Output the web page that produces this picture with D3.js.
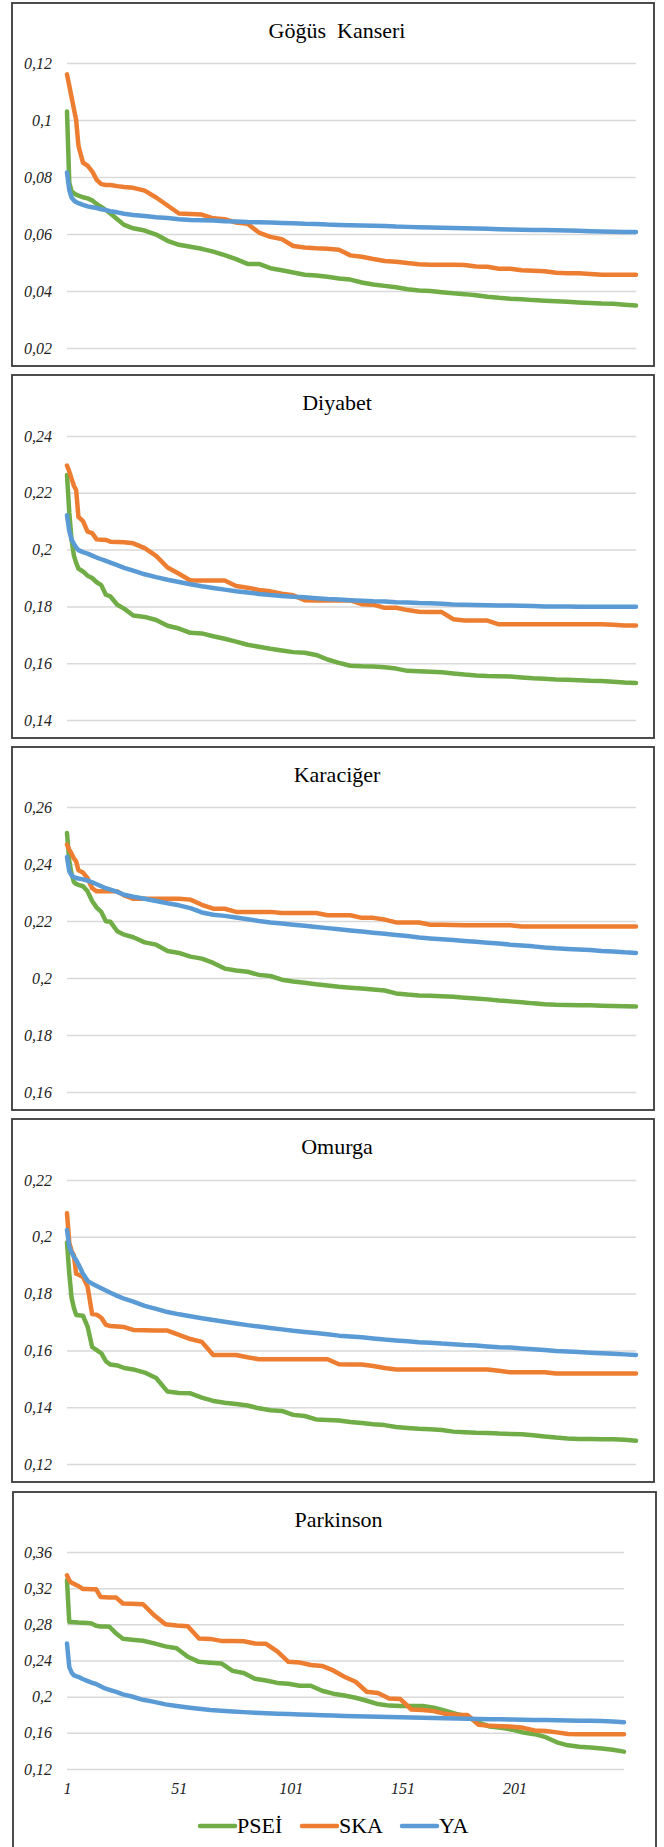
<!DOCTYPE html>
<html><head><meta charset="utf-8">
<script src="https://cdn.jsdelivr.net/npm/d3@7/dist/d3.min.js"></script>
<style>body{margin:0;background:#fff}svg{display:block}</style>
</head><body><svg id="c" width="664" height="1847"></svg>
<script>
// ---------- DATA ----------
const xIndex = [
  1,2,3,4,5,6,8,10,12,14,16,18,20,23,26,
  30,35,40,45,50,55,60,65,70,75,80,85,90,95,100,
  105,110,115,120,125,130,135,140,145,150,155,160,165,170,175,
  180,185,190,195,200,205,210,215,220,225,230,235,240,245,250];
const xTickLabels = [1,51,101,151,201];
const seriesNames = ["PSEİ","SKA","YA"];
const chartTitles = ["Göğüs  Kanseri","Diyabet","Karaciğer","Omurga","Parkinson"];

const yTicksGogus = [0.02,0.04,0.06,0.08,0.1,0.12];
const yTicksDiyabet = [0.14,0.16,0.18,0.2,0.22,0.24];
const yTicksKaraciger = [0.16,0.18,0.2,0.22,0.24,0.26];
const yTicksOmurga = [0.12,0.14,0.16,0.18,0.2,0.22];
const yTicksParkinson = [0.12,0.16,0.2,0.24,0.28,0.32,0.36];

const gogusPSEI = [0.103,0.078,0.075,0.0743,0.0738,0.0735,0.0729,0.0725,0.0718,0.0705,0.0695,0.0684,0.0672,0.0652,0.0632,
  0.062,0.0612,0.0598,0.0576,0.0562,0.0555,0.0548,0.0538,0.0526,0.0512,0.0495,0.0495,0.048,0.0473,0.0465,
  0.0457,0.0454,0.045,0.0444,0.044,0.043,0.0423,0.0418,0.0413,0.0406,0.0402,0.04,0.0396,0.0392,0.0389,
  0.0385,0.038,0.0376,0.0373,0.0371,0.0368,0.0366,0.0364,0.0362,0.036,0.0358,0.0356,0.0355,0.0352,0.0349];
const gogusSKA = [0.116,0.112,0.108,0.104,0.100,0.091,0.085,0.084,0.082,0.079,0.0775,0.0772,0.0772,0.0768,0.0765,
  0.0762,0.0752,0.0728,0.070,0.0672,0.067,0.0668,0.0655,0.0652,0.064,0.0636,0.0605,0.059,0.0582,0.0558,
  0.0553,0.055,0.0548,0.0545,0.0525,0.052,0.0512,0.0505,0.0503,0.0498,0.0494,0.0492,0.0492,0.0492,0.0491,
  0.0486,0.0485,0.0478,0.0478,0.0473,0.0471,0.0469,0.0464,0.0462,0.0462,0.046,0.0457,0.0457,0.0457,0.0457];
const gogusYA = [0.0816,0.0754,0.0728,0.0718,0.0712,0.0708,0.0702,0.0697,0.0694,0.0691,0.0687,0.0684,0.068,0.0676,0.0671,
  0.0667,0.0663,0.0659,0.0656,0.0652,0.0649,0.0648,0.0647,0.0645,0.0644,0.0642,0.0641,0.064,0.0639,0.0638,
  0.0636,0.0635,0.0633,0.0632,0.0631,0.063,0.0629,0.0628,0.0626,0.0625,0.0624,0.0623,0.0622,0.0621,0.062,
  0.0619,0.0618,0.0617,0.0616,0.0615,0.0614,0.0614,0.0613,0.0612,0.0611,0.061,0.0609,0.0608,0.0607,0.0607];

const diyabetPSEI = [0.2263,0.213,0.2035,0.198,0.1953,0.1933,0.1923,0.1908,0.190,0.1885,0.1875,0.1841,0.1835,0.1806,0.1792,
  0.1768,0.1763,0.1752,0.1732,0.1722,0.1707,0.1705,0.1695,0.1686,0.1676,0.1665,0.1658,0.1651,0.1645,0.1639,
  0.1637,0.1629,0.1613,0.1601,0.1591,0.1589,0.1588,0.1586,0.1581,0.1573,0.1572,0.157,0.1568,0.1564,0.156,
  0.1557,0.1555,0.1554,0.1553,0.155,0.1547,0.1545,0.1543,0.1542,0.154,0.1538,0.1537,0.1535,0.1532,0.153];
const diyabetSKA = [0.2296,0.2275,0.225,0.2225,0.221,0.2115,0.21,0.2063,0.2058,0.2036,0.2035,0.2034,0.2028,0.2027,0.2026,
  0.2022,0.2005,0.1978,0.1937,0.1915,0.1891,0.1891,0.1891,0.1891,0.1872,0.1866,0.1858,0.1853,0.1845,0.1839,
  0.1822,0.1821,0.1821,0.1821,0.1821,0.1808,0.1806,0.1795,0.1795,0.1787,0.1781,0.178,0.178,0.1755,0.175,
  0.175,0.175,0.1737,0.1737,0.1737,0.1737,0.1737,0.1737,0.1737,0.1737,0.1737,0.1737,0.1735,0.1733,0.1733];
const diyabetYA = [0.2121,0.2065,0.2035,0.2021,0.2008,0.1998,0.1991,0.1986,0.1979,0.1972,0.1966,0.196,0.1954,0.1945,0.1936,
  0.1926,0.1913,0.1903,0.1894,0.1886,0.1878,0.1871,0.1865,0.1859,0.1853,0.1849,0.1844,0.184,0.1837,0.1834,
  0.1832,0.1829,0.1826,0.1824,0.1822,0.182,0.1818,0.1817,0.1815,0.1814,0.1812,0.1811,0.1809,0.1807,0.1806,
  0.1805,0.1804,0.1803,0.1803,0.1802,0.1801,0.18,0.18,0.18,0.1799,0.1799,0.1799,0.1799,0.1799,0.1799];

const karacigerPSEI = [0.2509,0.241,0.2365,0.2337,0.233,0.2327,0.2322,0.2304,0.227,0.2247,0.2232,0.2199,0.2197,0.2164,0.2152,
  0.2143,0.2125,0.2117,0.2095,0.2088,0.2075,0.2068,0.2053,0.2033,0.2026,0.2022,0.2011,0.2007,0.1994,0.1988,
  0.1983,0.1978,0.1974,0.1969,0.1966,0.1963,0.196,0.1956,0.1946,0.1942,0.1939,0.1938,0.1936,0.1934,0.1931,
  0.1928,0.1925,0.1921,0.1918,0.1915,0.1911,0.1908,0.1906,0.1905,0.1904,0.1904,0.1903,0.1902,0.1901,0.19];
const karacigerSKA = [0.2468,0.245,0.2436,0.242,0.2409,0.2378,0.237,0.235,0.2315,0.2304,0.2304,0.2304,0.2304,0.2304,0.229,
  0.2278,0.2278,0.2278,0.2278,0.2278,0.2275,0.2257,0.2243,0.2243,0.2232,0.2232,0.2232,0.2232,0.2228,0.2228,
  0.2228,0.2228,0.222,0.222,0.222,0.2211,0.2211,0.2205,0.2195,0.2195,0.2195,0.2187,0.2187,0.2186,0.2185,
  0.2185,0.2185,0.2185,0.2185,0.2181,0.2181,0.2181,0.2181,0.2181,0.2181,0.2181,0.2181,0.2181,0.2181,0.2181];
const karacigerYA = [0.2425,0.2374,0.236,0.2354,0.2351,0.2349,0.2346,0.2342,0.2336,0.2329,0.2322,0.2315,0.231,0.2302,0.2292,
  0.2285,0.2278,0.227,0.2262,0.2255,0.2245,0.223,0.2222,0.2218,0.2212,0.2206,0.22,0.2195,0.2191,0.2187,
  0.2183,0.2179,0.2175,0.2171,0.2167,0.2163,0.2159,0.2155,0.2151,0.2147,0.2142,0.2139,0.2136,0.2133,0.213,
  0.2127,0.2124,0.2121,0.2117,0.2114,0.2111,0.2107,0.2104,0.2102,0.21,0.2098,0.2095,0.2093,0.209,0.2088];

const omurgaPSEI = [0.198,0.187,0.1785,0.175,0.1725,0.1724,0.1722,0.1684,0.1612,0.1601,0.159,0.1562,0.155,0.1547,0.1538,
  0.1533,0.1522,0.1503,0.1455,0.145,0.1449,0.1434,0.1422,0.1416,0.1411,0.1406,0.1396,0.1389,0.1387,0.1373,
  0.1369,0.1357,0.1355,0.1353,0.1348,0.1344,0.134,0.1337,0.133,0.1327,0.1324,0.1322,0.132,0.1314,0.1312,
  0.131,0.1309,0.1307,0.1306,0.1305,0.1301,0.1297,0.1293,0.129,0.1288,0.1288,0.1287,0.1287,0.1285,0.1282];
const omurgaSKA = [0.2083,0.198,0.195,0.1935,0.187,0.1867,0.1858,0.1825,0.1728,0.1726,0.1715,0.169,0.1686,0.1684,0.1682,
  0.1672,0.1671,0.167,0.167,0.1655,0.164,0.163,0.1584,0.1584,0.1584,0.1576,0.1569,0.1569,0.1569,0.1569,
  0.1569,0.1569,0.1569,0.1551,0.155,0.155,0.1545,0.1538,0.1533,0.1533,0.1533,0.1533,0.1533,0.1533,0.1533,
  0.1533,0.1533,0.1528,0.1523,0.1523,0.1523,0.1523,0.1519,0.1519,0.1519,0.1519,0.1519,0.1519,0.1519,0.1519];
const omurgaYA = [0.2024,0.1965,0.1945,0.193,0.1918,0.1903,0.187,0.1845,0.1835,0.1827,0.1819,0.1811,0.1803,0.1792,0.1782,
  0.1772,0.1757,0.1746,0.1735,0.1727,0.172,0.1713,0.1707,0.1701,0.1695,0.1689,0.1684,0.1679,0.1674,0.1669,
  0.1665,0.1661,0.1657,0.1652,0.1649,0.1646,0.1642,0.1638,0.1635,0.1632,0.1629,0.1627,0.1624,0.1622,0.1619,
  0.1617,0.1614,0.1611,0.161,0.1607,0.1604,0.1601,0.1598,0.1596,0.1594,0.1592,0.159,0.1588,0.1586,0.1584];

const parkinsonPSEI = [0.3287,0.2827,0.2825,0.2823,0.2822,0.282,0.2818,0.2816,0.281,0.2785,0.2777,0.2775,0.2773,0.2698,0.264,
  0.263,0.2618,0.259,0.2556,0.2535,0.2441,0.2385,0.2375,0.2367,0.2285,0.2262,0.2198,0.2178,0.2152,0.2142,
  0.212,0.212,0.2065,0.2033,0.2012,0.1988,0.1955,0.1918,0.1901,0.1896,0.1896,0.1896,0.1879,0.1845,0.181,
  0.178,0.1712,0.167,0.1655,0.1635,0.1603,0.1585,0.1552,0.1495,0.1462,0.1447,0.1438,0.1426,0.1413,0.1392];
const parkinsonSKA = [0.3342,0.3287,0.326,0.325,0.3235,0.3225,0.3192,0.319,0.3189,0.3188,0.3103,0.31,0.3098,0.3096,0.303,
  0.3027,0.3022,0.29,0.28,0.2788,0.278,0.2643,0.2639,0.2617,0.2615,0.2612,0.2588,0.2585,0.25,0.2385,
  0.2378,0.235,0.234,0.229,0.222,0.2165,0.2054,0.204,0.198,0.1973,0.1858,0.1852,0.184,0.181,0.18,
  0.1797,0.169,0.1677,0.1672,0.1668,0.1655,0.1627,0.162,0.1605,0.1587,0.1585,0.1584,0.1583,0.1583,0.1583];
const parkinsonYA = [0.2588,0.233,0.227,0.2238,0.2228,0.222,0.2195,0.2175,0.2155,0.214,0.2115,0.2091,0.2075,0.2052,0.2025,
  0.2002,0.1965,0.1942,0.1915,0.1897,0.1881,0.1866,0.1853,0.1845,0.1837,0.1829,0.1822,0.1817,0.1812,0.1807,
  0.1803,0.1799,0.1795,0.1791,0.1787,0.1784,0.1781,0.1778,0.1776,0.1773,0.177,0.1767,0.1764,0.1761,0.1758,
  0.1755,0.1753,0.1751,0.175,0.1747,0.1745,0.1743,0.1741,0.1739,0.1737,0.1735,0.1733,0.173,0.1725,0.1716];

// ---------- LAYOUT / STYLE ----------
const colors = ["#70AD47","#ED7D31","#5B9BD5"];
const charts = [
  {title: chartTitles[0], ticks: yTicksGogus,     series:[gogusPSEI,gogusSKA,gogusYA],             box:[12,3,654,366],    plot:[67,63,636,348]},
  {title: chartTitles[1], ticks: yTicksDiyabet,   series:[diyabetPSEI,diyabetSKA,diyabetYA],       box:[12,375,654,738],  plot:[67,436,636,720]},
  {title: chartTitles[2], ticks: yTicksKaraciger, series:[karacigerPSEI,karacigerSKA,karacigerYA], box:[12,747,654,1110], plot:[67,807,636,1092]},
  {title: chartTitles[3], ticks: yTicksOmurga,    series:[omurgaPSEI,omurgaSKA,omurgaYA],          box:[12,1119,654,1482],plot:[67,1180,636,1464]},
  {title: chartTitles[4], ticks: yTicksParkinson, series:[parkinsonPSEI,parkinsonSKA,parkinsonYA], box:[13,1492,656,1860],plot:[67,1552,624,1769], xAxis:true, legend:true}
];
const serif = "'Liberation Serif','Times New Roman',Times,serif";
const fmt = v => String(+v.toFixed(2)).replace(".", ",");

const svg = d3.select("#c");
svg.append("rect").attr("width",664).attr("height",1847).attr("fill","#fff");

charts.forEach(c => {
  const [bx0,by0,bx1,by1] = c.box;
  const [px0,py0,px1,py1] = c.plot;
  const g = svg.append("g");
  g.append("rect").attr("x",bx0).attr("y",by0).attr("width",bx1-bx0).attr("height",by1-by0)
    .attr("fill","#fff").attr("stroke","#3a3a3a").attr("stroke-width",1.8);

  const x = d3.scaleLinear().domain([1,250]).range([px0,px1]);
  const y = d3.scaleLinear().domain(d3.extent(c.ticks)).range([py1,py0]);

  // title
  g.append("text").attr("x",(bx0+bx1)/2 + 4).attr("y",by0+35)
    .attr("text-anchor","middle").attr("font-family",serif).attr("font-size",22)
    .attr("fill","#000").style("white-space","pre").text(c.title);

  // y axis with gridlines
  const ya = d3.axisLeft(y).tickValues(c.ticks).tickFormat(fmt)
    .tickSizeInner(-(px1-px0)).tickSizeOuter(0).tickPadding(15);
  const yg = g.append("g").attr("transform",`translate(${px0},0)`).call(ya);
  yg.select(".domain").remove();
  yg.selectAll(".tick line").attr("stroke","#d9d9d9").attr("stroke-width",1.5);
  yg.selectAll(".tick text").attr("font-family",serif).attr("font-style","italic")
    .attr("font-size",16).attr("fill","#222");

  if (c.xAxis) {
    const xa = d3.axisBottom(x).tickValues(xTickLabels).tickFormat(d3.format("d"))
      .tickSize(0).tickPadding(14);
    const xg = g.append("g").attr("transform",`translate(0,${py1})`).call(xa);
    xg.select(".domain").remove();
    xg.selectAll(".tick text").attr("font-family",serif).attr("font-style","italic")
      .attr("font-size",16).attr("fill","#222");
  }

  const line = d3.line().x((d,i)=>x(xIndex[i])).y(d=>y(d)).curve(d3.curveLinear);
  c.series.forEach((s,k) => {
    g.append("path").datum(s).attr("d",line).attr("fill","none")
      .attr("stroke",colors[k]).attr("stroke-width",4.5)
      .attr("stroke-linejoin","round").attr("stroke-linecap","round");
  });

  if (c.legend) {
    const items = [{x:200},{x:302},{x:402}];
    const ly = 1826;
    seriesNames.forEach((n,k) => {
      const lx = items[k].x;
      g.append("line").attr("x1",lx).attr("x2",lx+35).attr("y1",ly).attr("y2",ly)
        .attr("stroke",colors[k]).attr("stroke-width",4.5).attr("stroke-linecap","round");
      g.append("text").attr("x",lx+37).attr("y",ly+7).attr("font-family",serif)
        .attr("font-size",22).attr("fill","#000").text(n);
    });
  }
});
</script>
</body></html>
